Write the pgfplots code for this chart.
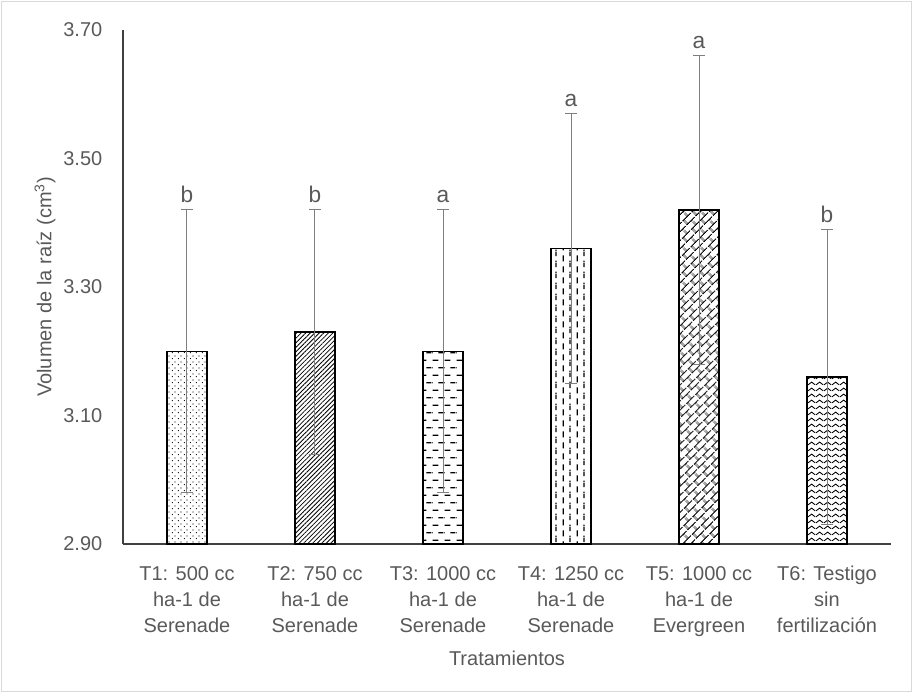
\documentclass[border=0pt]{standalone}
\usepackage{fontspec}
\setmainfont{Liberation Sans}
\usepackage{pgfplots}
\usepackage{pgfplotstable}
\pgfplotsset{compat=1.18}
\usetikzlibrary{patterns,patterns.meta}

\definecolor{txt}{HTML}{595959}
\definecolor{axl}{HTML}{404040}
\definecolor{errc}{HTML}{7F7F7F}
\definecolor{framec}{HTML}{D9D9D9}

% fill patterns of the six bars
\tikzdeclarepattern{
  name=sdots, type=uncolored,
  bounding box={(0,0) and (4.6pt,4.6pt)},
  tile size={(4.6pt,4.6pt)},
  code={
    \fill (1.15pt,1.15pt) circle (0.5pt);
    \fill (3.45pt,3.45pt) circle (0.5pt);
  }
}
\tikzdeclarepattern{
  name=hdashes, type=uncolored,
  bounding box={(0,0) and (9pt,11.2pt)},
  tile size={(9pt,11.2pt)},
  code={
    \draw[line width=0.9pt] (0.5pt,2.8pt) -- (5pt,2.8pt);
    \draw[line width=0.9pt] (5pt,8.4pt) -- (9pt,8.4pt);
    \draw[line width=0.9pt] (0pt,8.4pt) -- (0.5pt,8.4pt);
  }
}
\tikzdeclarepattern{
  name=vdashes, type=uncolored,
  bounding box={(0,0) and (10.5pt,8.4pt)},
  tile size={(10.5pt,8.4pt)},
  code={
    \draw[line width=0.9pt] (2.6pt,0.5pt) -- (2.6pt,5.3pt);
    \draw[line width=0.9pt] (7.9pt,4.7pt) -- (7.9pt,8.4pt);
    \draw[line width=0.9pt] (7.9pt,0pt) -- (7.9pt,1.1pt);
  }
}
\tikzdeclarepattern{
  name=diagbrick, type=uncolored,
  bounding box={(0,0) and (9pt,9pt)},
  tile size={(9pt,9pt)},
  tile transformation={rotate=45},
  code={
    \draw[line width=0.85pt] (0pt,1pt) -- (9pt,1pt);
    \draw[line width=0.85pt] (0pt,5.5pt) -- (9pt,5.5pt);
    \draw[line width=0.85pt] (1pt,1pt) -- (1pt,5.5pt);
    \draw[line width=0.85pt] (5.5pt,5.5pt) -- (5.5pt,9pt);
    \draw[line width=0.85pt] (5.5pt,0pt) -- (5.5pt,1pt);
  }
}
\tikzdeclarepattern{
  name=zigzag, type=uncolored,
  bounding box={(0,0) and (6pt,4.2pt)},
  tile size={(6pt,4.2pt)},
  code={
    \draw[line width=0.7pt] (0pt,0.9pt) -- (3pt,3.1pt) -- (6pt,0.9pt);
  }
}

% root volume per treatment: mean, error, letter group
\pgfplotstableread{
x y e lab
0 3.20 0.22 b
1 3.23 0.19 b
2 3.20 0.22 a
3 3.36 0.21 a
4 3.42 0.24 a
5 3.16 0.23 b
}\rootdata

\begin{document}
\begin{tikzpicture}[font=\fontsize{15}{19.5}\selectfont]
\begin{axis}[
  name=ax,
  scale only axis,
  width=576pt, height=385.5pt,
  xmin=-0.5, xmax=5.5,
  ymin=2.9, ymax=3.7,
  axis lines=left,
  axis line style={-, draw=axl, line width=0.9pt},
  major tick length=0pt,
  xtick={0,1,2,3,4,5},
  xticklabels={
    {T1: 500 cc\\ha-1 de\\Serenade},
    {T2: 750 cc\\ha-1 de\\Serenade},
    {T3: 1000 cc\\ha-1 de\\Serenade},
    {T4: 1250 cc\\ha-1 de\\Serenade},
    {T5: 1000 cc\\ha-1 de\\Evergreen},
    {T6: Testigo\\sin\\fertilización}},
  xticklabel style={align=center, text=txt, yshift=-13pt},
  ytick={2.9,3.1,3.3,3.5,3.7},
  yticklabel style={text=txt, xshift=-12pt,
    /pgf/number format/.cd, fixed, fixed zerofill, precision=2, assume math mode=true},
  xlabel={Tratamientos},
  ylabel={Volumen de la raíz (cm\textsuperscript{3})},
  x label style={at={(axis description cs:0.5,0)}, anchor=center, yshift=-85.5pt, text=txt},
  y label style={at={(axis description cs:-0.1016,0.5)}, anchor=center, rotate=0, text=txt},
]
\addplot[ybar, bar width=30pt, bar shift=0pt, draw=black, line width=1pt,
  pattern=sdots, pattern color=black] coordinates {(0,3.20)};
\addplot[ybar, bar width=30pt, bar shift=0pt, draw=black, line width=1pt,
  pattern={Lines[angle=45, distance=2.4pt, line width=0.6pt]}, pattern color=black] coordinates {(1,3.23)};
\addplot[ybar, bar width=30pt, bar shift=0pt, draw=black, line width=1pt,
  pattern=hdashes, pattern color=black] coordinates {(2,3.20)};
\addplot[ybar, bar width=30pt, bar shift=0pt, draw=black, line width=1pt,
  pattern=vdashes, pattern color=black] coordinates {(3,3.36)};
\addplot[ybar, bar width=30pt, bar shift=0pt, draw=black, line width=1pt,
  pattern=diagbrick, pattern color=black] coordinates {(4,3.42)};
\addplot[ybar, bar width=30pt, bar shift=0pt, draw=black, line width=1pt,
  pattern=zigzag, pattern color=black] coordinates {(5,3.16)};
% error bars
\addplot[only marks, mark=*, mark size=0pt, mark options={draw=none, fill=none},
  error bars/.cd, y dir=both, y explicit,
  error bar style={draw=errc, line width=0.75pt},
  error mark options={rotate=90, mark size=4.5pt, draw=errc, line width=0.75pt}]
  table[x=x, y=y, y error=e] {\rootdata};
% letter groups above the error bars
\addplot[only marks, mark=*, mark size=0pt, mark options={draw=none, fill=none},
  nodes near coords, point meta=explicit symbolic,
  nodes near coords style={anchor=south, text=txt, font=\fontsize{17}{20}\selectfont, yshift=1.5pt}]
  table[x=x, y expr=\thisrow{y}+\thisrow{e}, meta=lab] {\rootdata};
\end{axis}
% chart area frame
\useasboundingbox[shift={(ax.south west)}] (-92.25pt,-111.75pt) rectangle ++(684.75pt,519.75pt);
\draw[framec, line width=0.75pt, shift={(ax.south west)}] (-90.75pt,-110.25pt) rectangle ++(681.75pt,516.75pt);
\end{tikzpicture}
\end{document}
